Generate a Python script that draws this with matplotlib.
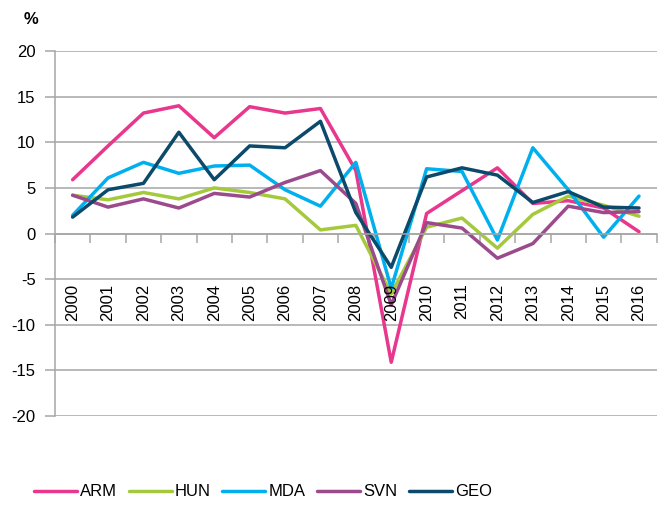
import matplotlib.pyplot as plt
import matplotlib.transforms as mtransforms
import numpy as np

plt.rcParams['font.family'] = ['Liberation Sans', 'DejaVu Sans']
plt.rcParams['axes.unicode_minus'] = False

years = [str(y) for y in range(2000, 2017)]
arm = [5.9, 9.6, 13.2, 14.0, 10.5, 13.9, 13.2, 13.7, 6.9, -14.1, 2.2, 4.7, 7.2, 3.3, 3.6, 2.8, 0.2]
hun = [4.2, 3.7, 4.5, 3.8, 5.0, 4.5, 3.8, 0.4, 0.9, -6.6, 0.7, 1.7, -1.6, 2.1, 4.1, 3.1, 1.9]
mda = [2.0, 6.1, 7.8, 6.6, 7.4, 7.5, 4.8, 3.0, 7.8, -6.0, 7.1, 6.8, -0.7, 9.4, 4.8, -0.4, 4.1]
svn = [4.2, 2.9, 3.8, 2.8, 4.4, 4.0, 5.6, 6.9, 3.3, -7.8, 1.2, 0.6, -2.7, -1.1, 3.0, 2.3, 2.4]
geo = [1.8, 4.8, 5.5, 11.1, 5.9, 9.6, 9.4, 12.3, 2.3, -3.7, 6.2, 7.2, 6.4, 3.4, 4.6, 2.9, 2.8]

series = [("ARM", arm, "#E8378C"), ("HUN", hun, "#A5C93C"),
          ("MDA", mda, "#00B0EE"), ("SVN", svn, "#9B4A8B"),
          ("GEO", geo, "#0B4A6B")]

fig = plt.figure(figsize=(6.62, 5.05), dpi=100)
ax = fig.add_axes([0.083, 0.176, 0.909, 0.723])

x = np.arange(len(years))
for name, vals, col in series:
    ax.plot(x, vals, color=col, lw=2.5, label=name, solid_capstyle='round')

grey = "#A6A6A6"
ax.set_ylim(-20, 20)
ax.set_xlim(-0.5, len(years) - 0.5)
ax.set_yticks(np.arange(-20, 21, 5))
ax.yaxis.grid(True, color=grey, lw=1.1)
ax.set_axisbelow(True)

for s in ["top", "right"]:
    ax.spines[s].set_visible(False)
ax.spines["left"].set_color(grey)
ax.spines["bottom"].set_color(grey)
ax.spines["left"].set_linewidth(1.1)
ax.spines["bottom"].set_linewidth(1.1)
ax.spines["bottom"].set_position(("data", 0))

ax.set_xticks(np.arange(-0.5, len(years), 1.0))
ax.set_xticklabels([])
ax.tick_params(axis="x", length=6.3, color=grey, width=1.1)
ax.tick_params(axis="y", length=7, color=grey, width=1.1, labelsize=12, pad=7)

# year labels sit a fixed distance under the zero line
lab_tr = mtransforms.offset_copy(ax.transData, fig=fig, y=-36, units="points")
for xi, yr in zip(x, years):
    ax.text(xi, 0, yr, transform=lab_tr, rotation=90, ha="center", va="top",
            fontsize=12, zorder=5)

fig.text(0.035, 0.962, "%", fontsize=12, fontweight="bold", ha="left", va="center")

ax.legend(loc="center", bbox_to_anchor=(0.397, 0.026), bbox_transform=fig.transFigure,
          ncol=5, frameon=False, fontsize=12, handlelength=2.58,
          handletextpad=0.18, columnspacing=0.7)

fig.savefig("out.png", dpi=100)
